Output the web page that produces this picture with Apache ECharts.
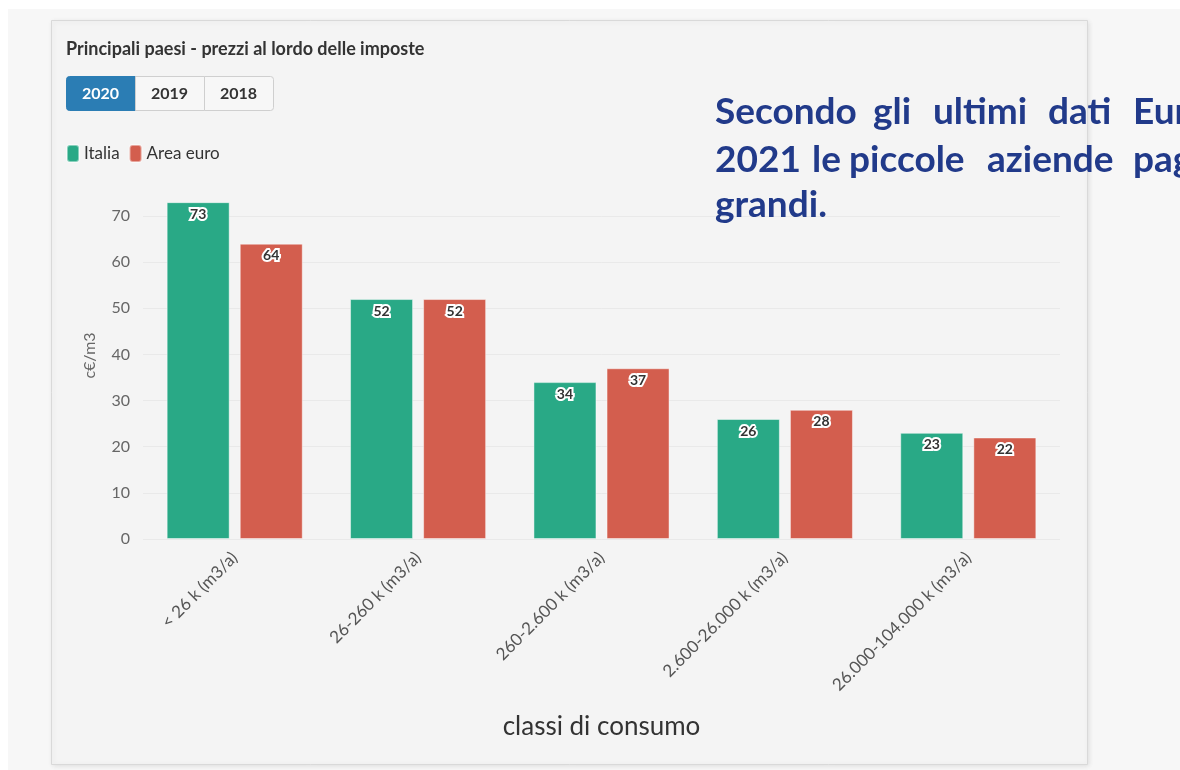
<!DOCTYPE html>
<html>
<head>
<meta charset="utf-8">
<script src="https://cdn.jsdelivr.net/npm/echarts@6/dist/echarts.min.js"></script>
<style>
  html, body { margin: 0; padding: 0; background: #ffffff; }
  #chart { width: 1180px; height: 770px; }
</style>
</head>
<body>
<div id="chart"></div>
<script>
// Consumption classes and prices (c€/m3), 2020
const categories = ['< 26 k (m3/a)', '26-260 k (m3/a)', '260-2.600 k (m3/a)', '2.600-26.000 k (m3/a)', '26.000-104.000 k (m3/a)'];
const italia = [73, 52, 34, 26, 23];
const areaEuro = [64, 52, 37, 28, 22];
const seriesNames = ['Italia', 'Area euro'];
const years = ['2020', '2019', '2018'];
const yTicks = [0, 10, 20, 30, 40, 50, 60, 70];

const FONT = 'Lato, "Noto Sans", sans-serif';
const GREEN = '#29a986';
const RED = '#d35e4e';
const BLUE = '#2b7db4';

// Year selector buttons (decoration drawn as graphic elements)
const btnX = 66, btnY = 76, btnW = 69, btnH = 34;
const buttons = [];
years.forEach(function (y, i) {
  const active = i === 0;
  buttons.push({
    type: 'rect', z: 5,
    shape: { x: btnX + i * btnW + 0.5, y: btnY + 0.5, width: btnW, height: btnH,
             r: i === 0 ? [3, 0, 0, 3] : (i === years.length - 1 ? [0, 3, 3, 0] : 0) },
    style: { fill: active ? BLUE : '#f7f7f7', stroke: active ? BLUE : '#cfcfcf', lineWidth: 1 }
  });
  buttons.push({
    type: 'text', z: 6,
    style: { text: y, x: btnX + i * btnW + btnW / 2, y: btnY + btnH / 2 + 1,
             textAlign: 'center', textVerticalAlign: 'middle', verticalAlign: 'middle',
             font: 'bold 16px ' + FONT, fill: active ? '#ffffff' : '#333333' }
  });
});

// Justified side note, one word at a time
const noteLines = [
  { y: 112, words: [['Secondo', 715], ['gli', 873], ['ultimi', 933], ['dati', 1048], ['Eur', 1133]] },
  { y: 160, words: [['2021', 715], ['le', 812], ['piccole', 849], ['aziende', 987], ['pag', 1133]] },
  { y: 205, words: [['grandi.', 715]] }
];
const note = [];
noteLines.forEach(function (line) {
  line.words.forEach(function (w) {
    note.push({
      type: 'text', z: 20,
      style: { text: w[0], x: w[1], y: line.y, textAlign: 'left',
               textVerticalAlign: 'middle', verticalAlign: 'middle',
               font: 'bold 37px ' + FONT, fill: '#213a8a' }
    });
  });
});

const chart = echarts.init(document.getElementById('chart'), null, { renderer: 'canvas' });

const valueLabel = {
  show: true, position: 'insideTop', distance: 5, fontSize: 14, fontWeight: 'bold',
  color: '#333333', textBorderColor: '#ffffff', textBorderWidth: 4, fontFamily: FONT
};

chart.setOption({
  animation: false,
  backgroundColor: '#ffffff',
  textStyle: { fontFamily: FONT },
  title: {
    text: 'Principali paesi - prezzi al lordo delle imposte',
    left: 61, top: 35,
    textStyle: { fontSize: 18, fontWeight: 'bold', color: '#333333', fontFamily: FONT }
  },
  legend: {
    data: seriesNames,
    left: 61, top: 139,
    icon: 'roundRect',
    itemWidth: 12, itemHeight: 17, itemGap: 9,
    textStyle: { fontSize: 17, color: '#333333', fontFamily: FONT }
  },
  grid: { left: 143, right: 120, top: 216, bottom: 231 },
  xAxis: {
    type: 'category',
    data: categories,
    axisTick: { show: false },
    axisLine: { show: false },
    axisLabel: { rotate: 45, fontSize: 17, color: '#555555', margin: 16, fontFamily: FONT },
    name: 'classi di consumo',
    nameLocation: 'middle',
    nameGap: 175,
    nameTextStyle: { fontSize: 26, color: '#333333', fontFamily: FONT }
  },
  yAxis: {
    type: 'value',
    min: yTicks[0], max: yTicks[yTicks.length - 1], interval: 10,
    axisLabel: { fontSize: 16, color: '#666666', margin: 13, fontFamily: FONT },
    splitLine: { lineStyle: { color: '#e9e9e9', width: 1 } },
    axisLine: { show: false },
    axisTick: { show: false },
    name: 'c€/m3',
    nameLocation: 'middle',
    nameGap: 45,
    nameTextStyle: { fontSize: 16, color: '#666666', padding: [0, 0, 0, 44], fontFamily: FONT }
  },
  series: [
    {
      name: seriesNames[0], type: 'bar', data: italia, clip: false,
      barWidth: 63, barGap: '16%',
      itemStyle: { color: GREEN, borderColor: 'rgba(255,255,255,0.45)', borderWidth: 1 },
      label: valueLabel
    },
    {
      name: seriesNames[1], type: 'bar', data: areaEuro, clip: false,
      barWidth: 63,
      itemStyle: { color: RED, borderColor: 'rgba(255,255,255,0.45)', borderWidth: 1 },
      label: valueLabel
    }
  ],
  graphic: [
    // page and card backgrounds
    { type: 'rect', z: -10, silent: true, shape: { x: 8, y: 9, width: 1172, height: 761 },
      style: { fill: '#f7f7f7' } },
    { type: 'rect', z: -9, silent: true, shape: { x: 51.5, y: 20.5, width: 1036, height: 744 },
      style: { fill: '#f4f4f4', stroke: '#d9d9d9', lineWidth: 1,
               shadowBlur: 5, shadowColor: 'rgba(0,0,0,0.10)', shadowOffsetX: 1, shadowOffsetY: 1 } }
  ].concat(buttons, note)
});
</script>
</body>
</html>
